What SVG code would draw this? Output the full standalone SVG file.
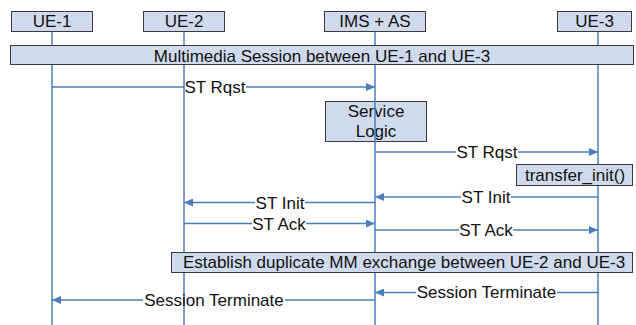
<svg xmlns="http://www.w3.org/2000/svg" width="636" height="325" viewBox="0 0 636 325">
  <style>
    .box { fill: #cfdbed; stroke: #3a3a3a; stroke-width: 1; }
    .life { stroke: #4a7ebb; stroke-width: 1.5; fill: none; }
    .msg { stroke: #4a7ebb; stroke-width: 1.5; fill: none; }
    .arrow { marker-end: url(#head); }
    text { font-family: "Liberation Sans", Arial, sans-serif; font-size: 17px; fill: #111; text-anchor: middle; }
  </style>
  <defs>
    <marker id="head" markerUnits="userSpaceOnUse" markerWidth="10" markerHeight="8" refX="9" refY="4" orient="auto">
      <path d="M0,0 L9,4 L0,8 Z" fill="#4a7ebb"/>
    </marker>
  </defs>
  <rect width="636" height="325" fill="#ffffff"/>

  <!-- service logic box sits under the IMS lifeline -->
  <g id="service-logic">
    <rect class="box" x="325.5" y="101.5" width="101" height="40"/>
    <text x="376" y="116.5">Service</text>
    <text x="376" y="137">Logic</text>
  </g>

  <g id="connectors">
    <!-- lifelines -->
    <line class="life" x1="52" y1="32" x2="52" y2="325"/>
    <line class="life" x1="184" y1="32" x2="184" y2="325"/>
    <line class="life" x1="375" y1="32" x2="375" y2="325"/>
    <line class="life" x1="598" y1="32" x2="598" y2="325"/>

    <!-- ST Rqst UE-1 -> IMS -->
    <line class="msg" x1="52" y1="87" x2="184" y2="87"/>
    <line class="msg arrow" x1="246" y1="87" x2="375" y2="87"/>
    <text x="215" y="93">ST Rqst</text>

    <!-- ST Rqst IMS -> UE-3 -->
    <line class="msg" x1="375" y1="152" x2="456" y2="152"/>
    <line class="msg arrow" x1="518" y1="152" x2="598" y2="152"/>
    <text x="487" y="158">ST Rqst</text>

    <!-- ST Init UE-3 -> IMS -->
    <line class="msg" x1="598" y1="197" x2="511" y2="197"/>
    <line class="msg arrow" x1="461" y1="197" x2="375" y2="197"/>
    <text x="486" y="203">ST Init</text>

    <!-- ST Init IMS -> UE-2 -->
    <line class="msg" x1="375" y1="202.5" x2="305" y2="202.5"/>
    <line class="msg arrow" x1="255" y1="202.5" x2="184" y2="202.5"/>
    <text x="280" y="208.5">ST Init</text>

    <!-- ST Ack UE-2 -> IMS -->
    <line class="msg" x1="184" y1="223.5" x2="252" y2="223.5"/>
    <line class="msg arrow" x1="306" y1="223.5" x2="375" y2="223.5"/>
    <text x="279" y="229.5">ST Ack</text>

    <!-- ST Ack IMS -> UE-3 -->
    <line class="msg" x1="375" y1="230" x2="459" y2="230"/>
    <line class="msg arrow" x1="513" y1="230" x2="598" y2="230"/>
    <text x="486" y="236">ST Ack</text>

    <!-- Session Terminate UE-3 -> IMS -->
    <line class="msg" x1="598" y1="292.5" x2="557" y2="292.5"/>
    <line class="msg arrow" x1="416" y1="292.5" x2="375" y2="292.5"/>
    <text x="486.5" y="298">Session Terminate</text>

    <!-- Session Terminate IMS -> UE-1 -->
    <line class="msg" x1="375" y1="300" x2="285" y2="300"/>
    <line class="msg arrow" x1="143" y1="300" x2="52" y2="300"/>
    <text x="214" y="306">Session Terminate</text>
  </g>

  <g id="ue1">
    <rect class="box" x="11.5" y="11.5" width="81" height="20"/>
    <text x="52" y="27">UE-1</text>
  </g>
  <g id="ue2">
    <rect class="box" x="143.5" y="11.5" width="81" height="20"/>
    <text x="184" y="27">UE-2</text>
  </g>
  <g id="ims-as">
    <rect class="box" x="324.5" y="11.5" width="101" height="20"/>
    <text x="375" y="27">IMS + AS</text>
  </g>
  <g id="ue3">
    <rect class="box" x="557.5" y="11.5" width="74" height="20"/>
    <text x="594.5" y="27">UE-3</text>
  </g>

  <g id="mm-session">
    <rect class="box" x="10.5" y="45.5" width="623" height="19"/>
    <text x="322" y="61.5">Multimedia Session between UE-1 and UE-3</text>
  </g>

  <g id="transfer-init">
    <rect class="box" x="516.5" y="164.5" width="116" height="21"/>
    <text x="575" y="181">transfer_init()</text>
  </g>

  <g id="duplicate-mm">
    <rect class="box" x="171.5" y="252.5" width="461" height="20"/>
    <text x="404" y="268">Establish duplicate MM exchange between UE-2 and UE-3</text>
  </g>
</svg>
